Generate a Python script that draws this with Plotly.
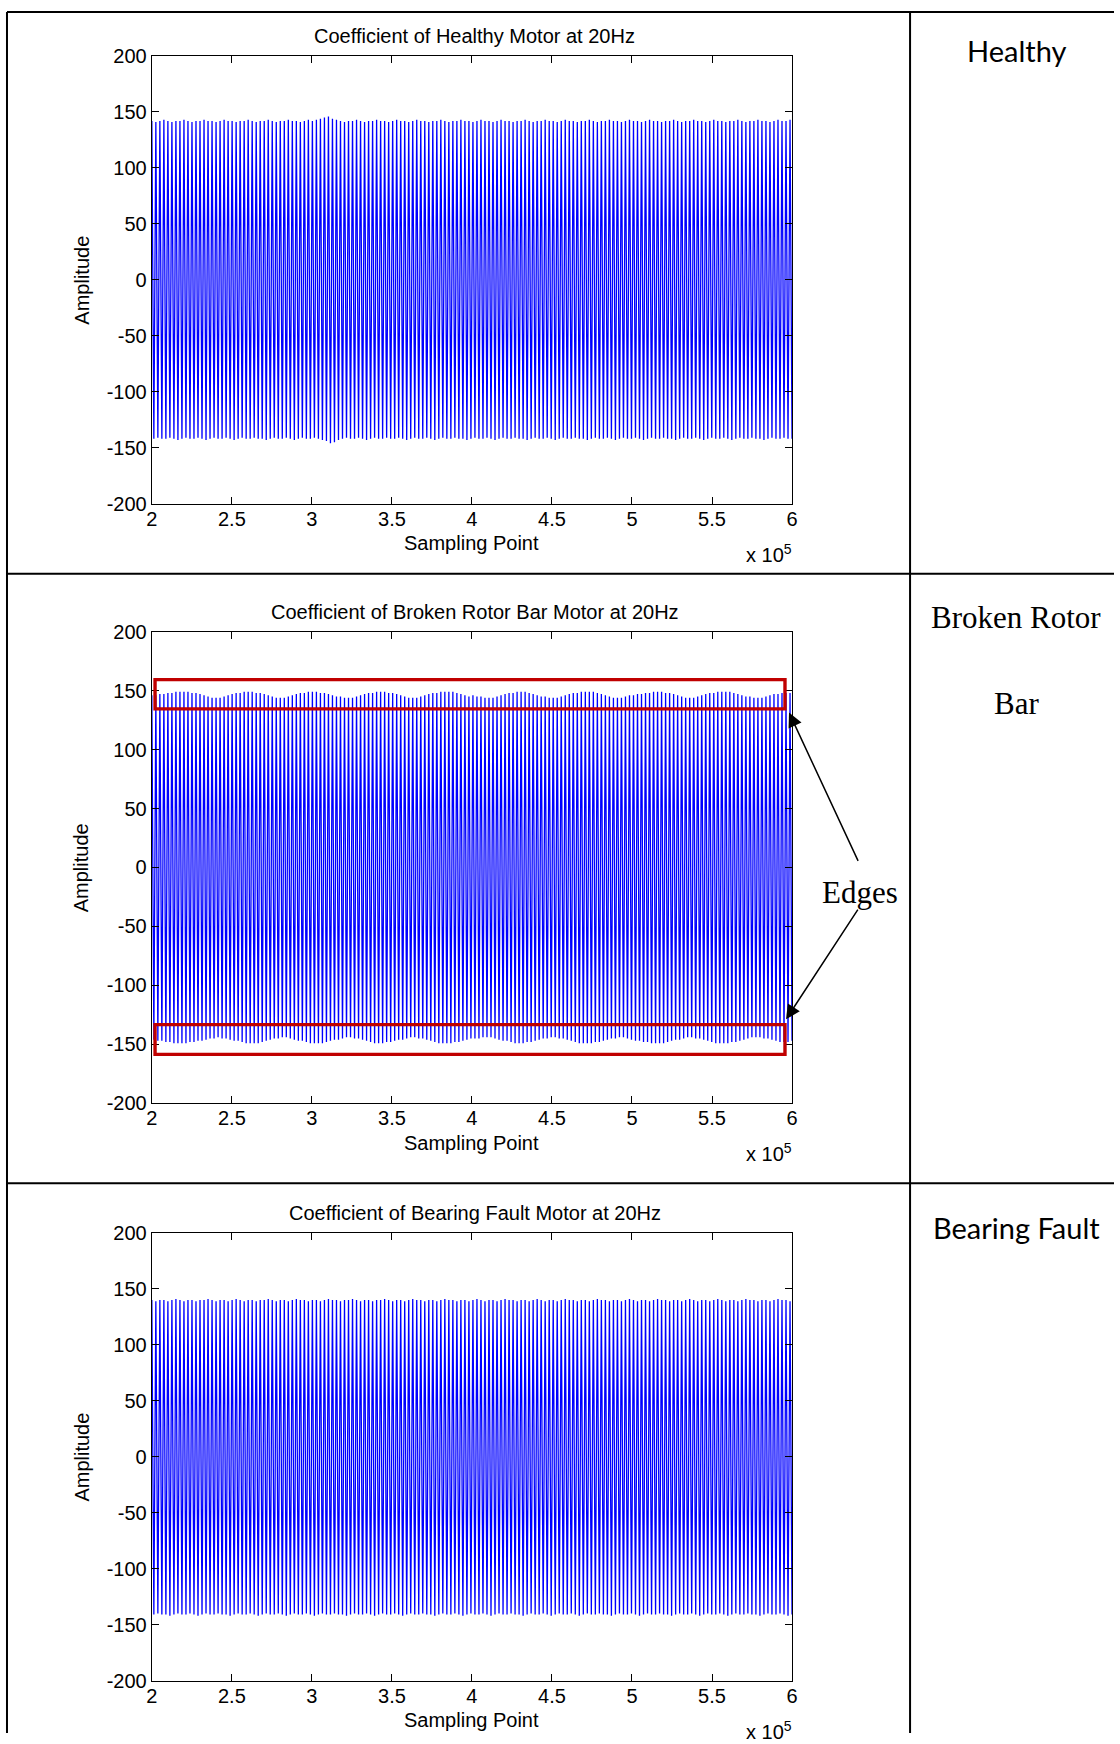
import plotly.graph_objects as go

# ---------------- data ----------------
X_START, X_END = 200000, 600000

healthy_peaks = [
    142, 141, 142, 143, 142, 141, 142, 142, 143, 142, 141, 142, 142, 143, 142, 142, 141, 142, 143, 142,
    142, 141, 142, 142, 143, 142, 141, 142, 142, 143, 142, 141, 142, 142, 143, 142, 142, 141, 142, 143,
    142, 143, 144, 145, 146, 144, 143, 142, 141, 142, 142, 143, 142, 141, 142, 142, 143, 142, 142, 141,
    142, 143, 142, 142, 141, 142, 143, 142, 142, 141, 142, 142, 143, 142, 141, 142, 142, 143, 142, 142,
    141, 142, 143, 142, 142, 141, 142, 143, 142, 142, 141, 142, 142, 143, 142, 141, 142, 142, 143, 142,
    142, 141, 142, 143, 142, 142, 141, 142, 142, 143, 142, 141, 142, 142, 143, 142, 142, 141, 142, 143,
    142, 142, 141, 142, 143, 142, 142, 141, 142, 142, 143, 142, 141, 142, 142, 143, 142, 142, 141, 142,
    143, 142, 142, 141, 142, 142, 143, 142, 141, 142, 142, 143, 142, 142, 141, 142, 143, 142, 142, 143,
]
healthy_troughs = [
    -142, -141, -142, -142, -141, -142, -143, -142, -141, -142, -142, -141, -142, -143, -142, -141, -142, -142, -141, -142,
    -143, -142, -141, -142, -142, -141, -142, -142, -143, -142, -141, -142, -142, -141, -142, -143, -142, -141, -142, -142,
    -141, -142, -143, -144, -146, -145, -143, -142, -141, -142, -142, -141, -142, -143, -142, -141, -142, -142, -141, -142,
    -142, -141, -142, -143, -142, -141, -142, -142, -141, -142, -143, -142, -141, -142, -142, -141, -142, -142, -143, -142,
    -141, -142, -142, -141, -142, -143, -142, -141, -142, -142, -141, -142, -142, -143, -142, -141, -142, -142, -141, -142,
    -143, -142, -141, -142, -142, -141, -142, -142, -143, -142, -141, -142, -142, -141, -142, -143, -142, -141, -142, -142,
    -141, -142, -143, -142, -141, -142, -142, -141, -142, -142, -143, -142, -141, -142, -142, -141, -142, -143, -142, -141,
    -142, -142, -141, -142, -143, -142, -141, -142, -142, -141, -142, -142, -143, -142, -141, -142, -142, -141, -142, -142,
]

broken_peaks = [
    146, 146, 147, 147, 148, 148, 149, 149, 149, 149, 148, 148, 147, 146, 145, 144, 144, 144, 145, 146,
    147, 148, 148, 149, 149, 149, 148, 148, 147, 146, 145, 144, 144, 144, 145, 146, 147, 148, 148, 149,
    149, 149, 148, 148, 147, 146, 145, 145, 144, 144, 144, 145, 146, 147, 148, 148, 149, 149, 149, 148,
    148, 147, 146, 145, 144, 144, 144, 145, 146, 147, 148, 148, 149, 149, 149, 149, 148, 147, 146, 145,
    146, 145, 145, 144, 144, 144, 145, 146, 147, 148, 148, 149, 149, 149, 148, 147, 146, 145, 145, 144,
    144, 144, 145, 146, 147, 148, 148, 149, 149, 149, 149, 148, 147, 146, 145, 144, 144, 144, 145, 146,
    146, 147, 147, 148, 148, 149, 149, 149, 148, 148, 147, 146, 145, 144, 144, 144, 145, 146, 147, 148,
    148, 149, 149, 149, 149, 148, 147, 146, 145, 145, 144, 144, 144, 145, 146, 147, 147, 148, 148, 148,
]
broken_troughs = [
    -146, -147, -147, -148, -148, -149, -149, -149, -149, -148, -148, -147, -147, -146, -145, -145, -144, -145, -145, -146,
    -147, -147, -148, -149, -149, -149, -149, -148, -147, -146, -145, -145, -144, -144, -145, -146, -147, -147, -148, -149,
    -149, -149, -149, -148, -147, -146, -146, -145, -144, -144, -145, -145, -146, -147, -148, -149, -149, -149, -148, -148,
    -147, -146, -146, -145, -144, -144, -145, -145, -146, -147, -148, -149, -149, -149, -149, -148, -148, -147, -146, -145,
    -145, -145, -144, -144, -144, -145, -146, -147, -147, -148, -149, -149, -149, -148, -148, -147, -146, -145, -145, -144,
    -144, -145, -145, -146, -147, -148, -149, -149, -149, -149, -148, -148, -147, -146, -145, -145, -144, -144, -145, -146,
    -147, -147, -148, -148, -149, -149, -149, -149, -148, -147, -146, -146, -145, -144, -144, -145, -145, -146, -147, -148,
    -149, -149, -149, -149, -148, -148, -147, -146, -145, -144, -144, -144, -145, -145, -146, -147, -148, -148, -148, -147,
]

bearing_peaks = [
    140, 139, 140, 140, 139, 140, 141, 140, 139, 140, 140, 139, 140, 140, 141, 140, 139, 140, 140, 139,
    140, 141, 140, 139, 140, 140, 139, 140, 140, 141, 140, 139, 140, 140, 139, 140, 141, 140, 140, 139,
    140, 140, 139, 140, 141, 140, 140, 139, 140, 140, 141, 140, 139, 140, 140, 139, 140, 140, 141, 140,
    139, 140, 140, 139, 140, 141, 140, 140, 139, 140, 140, 139, 140, 141, 140, 140, 139, 140, 140, 139,
    140, 141, 140, 139, 140, 140, 139, 140, 141, 140, 140, 139, 140, 140, 139, 140, 141, 140, 139, 140,
    140, 139, 140, 141, 140, 140, 139, 140, 140, 139, 140, 141, 140, 140, 139, 140, 140, 139, 140, 141,
    140, 139, 140, 140, 139, 140, 141, 140, 140, 139, 140, 140, 139, 140, 141, 140, 139, 140, 140, 139,
    140, 141, 140, 139, 140, 140, 139, 140, 141, 140, 140, 139, 140, 140, 139, 140, 141, 140, 140, 139,
]
bearing_troughs = [
    -141, -140, -141, -141, -142, -141, -140, -141, -141, -140, -141, -142, -141, -140, -141, -141, -140, -141, -141, -142,
    -141, -140, -141, -141, -140, -141, -142, -141, -140, -141, -141, -140, -141, -142, -141, -140, -141, -141, -140, -141,
    -142, -141, -140, -141, -141, -140, -141, -141, -142, -141, -140, -141, -141, -140, -141, -142, -141, -140, -141, -141,
    -140, -141, -142, -141, -140, -141, -141, -140, -141, -141, -142, -141, -140, -141, -141, -140, -141, -142, -141, -140,
    -141, -141, -140, -141, -142, -141, -140, -141, -141, -140, -141, -141, -142, -141, -140, -141, -141, -140, -141, -142,
    -141, -140, -141, -141, -140, -141, -142, -141, -140, -141, -141, -140, -141, -141, -142, -141, -140, -141, -141, -140,
    -141, -142, -141, -140, -141, -141, -140, -141, -141, -142, -141, -140, -141, -141, -140, -141, -142, -141, -140, -141,
    -141, -140, -141, -142, -141, -140, -141, -141, -140, -141, -141, -142, -141, -140, -141, -141, -140, -141, -142, -141,
]

x_tick_vals = [200000, 250000, 300000, 350000, 400000, 450000, 500000, 550000, 600000]
x_tick_text = ["2", "2.5", "3", "3.5", "4", "4.5", "5", "5.5", "6"]
y_tick_vals = [-200, -150, -100, -50, 0, 50, 100, 150, 200]
y_tick_text = ["-200", "-150", "-100", "-50", "0", "50", "100", "150", "200"]

plot_titles = [
    "Coefficient of Healthy Motor at 20Hz",
    "Coefficient of Broken Rotor Bar Motor at 20Hz",
    "Coefficient of Bearing Fault Motor at 20Hz",
]
x_label = "Sampling Point"
y_label = "Amplitude"
x_exponent = "x 10<sup>5</sup>"

# highlighted "edge" bands on the broken-rotor-bar panel (x range, y range)
edge_box_x = [202000, 595600]
edge_upper_y = [134.5, 159.3]
edge_lower_y = [-158.5, -133.3]

# ---------------- layout helpers ----------------
W, H = 1120, 1744
# the captured page shows the figure slightly scaled and offset; target
# positions (page pixels) are mapped back into figure pixels
SX, BX = 0.989, 6.2
SY, BY = 0.988, 10.0


def fx(x):
    return (x - BX) / SX


def fy(y):
    return (y - BY) / SY


def px(x):
    return min(max(fx(x) / W, 0.0), 1.0)


def py(y):
    return min(max(1 - fy(y) / H, 0.0), 1.0)


def build_series(peaks, troughs):
    n = 2 * len(peaks)
    step = (X_END - X_START) / (n - 1)
    xs, ys = [], []
    j = 0
    for p, t in zip(peaks, troughs):
        xs.append(X_START + j * step)
        ys.append(p)
        j += 1
        xs.append(X_START + j * step)
        ys.append(t)
        j += 1
    return xs, ys


# panel geometry in target pixels: (top, bottom)
panels = [(55, 503), (631, 1103), (1232.7, 1680.7)]
PLOT_L, PLOT_R = 152, 792
series = [
    (healthy_peaks, healthy_troughs),
    (broken_peaks, broken_troughs),
    (bearing_peaks, bearing_troughs),
]

fig = go.Figure()
TICKFONT = dict(family="Liberation Sans, Arial, sans-serif", size=20, color="black")
LABFONT = dict(family="Liberation Sans, Arial, sans-serif", size=20, color="black")

annotations = []
layout_axes = {}
for i, ((top, bot), (pk, tr)) in enumerate(zip(panels, series)):
    sfx = "" if i == 0 else str(i + 1)
    xs, ys = build_series(pk, tr)
    fig.add_trace(go.Scatter(
        x=xs, y=ys, mode="lines",
        line=dict(color="#0000FF", width=1.3, simplify=False),
        xaxis="x" + sfx, yaxis="y" + sfx,
        hoverinfo="skip", showlegend=False,
    ))
    common = dict(showline=True, linecolor="black", linewidth=1.3, mirror="allticks",
                  ticks="inside", ticklen=7, tickwidth=1, tickcolor="black",
                  showgrid=False, zeroline=False, tickfont=TICKFONT, fixedrange=True)
    layout_axes["xaxis" + sfx] = dict(
        common, domain=[px(PLOT_L), px(PLOT_R)], range=[X_START, X_END],
        tickmode="array", tickvals=x_tick_vals, ticktext=x_tick_text,
        anchor="y" + sfx, ticklabelstandoff=-3)
    layout_axes["yaxis" + sfx] = dict(
        common, domain=[py(bot), py(top)], range=[-200, 200],
        tickmode="array", tickvals=y_tick_vals, ticktext=y_tick_text,
        anchor="x" + sfx, ticklabelstandoff=0)

    cx = (PLOT_L + PLOT_R) / 2
    annotations.append(dict(text=plot_titles[i], x=px(475), y=py(top - 19.5),
                            xref="paper", yref="paper", showarrow=False,
                            xanchor="center", yanchor="middle", font=LABFONT))
    annotations.append(dict(text=x_label, x=px(cx), y=py(bot + 39.5),
                            xref="paper", yref="paper", showarrow=False,
                            xanchor="center", yanchor="middle", font=LABFONT))
    annotations.append(dict(text=x_exponent, x=px(PLOT_R + 2), y=py(bot + 49.5),
                            xref="paper", yref="paper", showarrow=False,
                            xanchor="right", yanchor="middle", font=LABFONT))
    annotations.append(dict(text=y_label, x=px(82), y=py((top + bot) / 2),
                            xref="paper", yref="paper", showarrow=False, textangle=-90,
                            xanchor="center", yanchor="middle", font=LABFONT))

# right-hand column labels
CAL = dict(family="Lato, Open Sans, sans-serif", size=29, color="black")
SERIF = dict(family="Liberation Serif, Times New Roman, serif", size=31, color="black")
annotations += [
    dict(text="Healthy", x=px(1016), y=py(49.5), font=CAL),
    dict(text="Broken Rotor", x=px(1016), y=py(616.5), font=SERIF),
    dict(text="Bar", x=px(1016), y=py(703), font=SERIF),
    dict(text="Bearing Fault", x=px(1016), y=py(1227), font=CAL),
    dict(text="Edges", x=px(860), y=py(892), font=SERIF),
]
for a in annotations[-5:]:
    a.update(xref="paper", yref="paper", showarrow=False, xanchor="center", yanchor="middle")

# arrows from "Edges" to the two bands
annotations += [
    dict(text="", x=px(789), y=py(712), xref="paper", yref="paper", showarrow=True,
         ax=69 / SX, ay=148 / SY, arrowhead=2, arrowsize=1.9, arrowwidth=1.5, arrowcolor="black"),
    dict(text="", x=px(786), y=py(1019), xref="paper", yref="paper", showarrow=True,
         ax=72 / SX, ay=-110 / SY, arrowhead=2, arrowsize=1.9, arrowwidth=1.5, arrowcolor="black"),
]

shapes = []
# table grid
LINE = dict(color="black", width=2)
top_y = min(py(5.7), 1 - 1 / H)
left_x = max(px(6.6), 1 / W)
shapes += [
    dict(type="line", xref="paper", yref="paper", x0=left_x, x1=1, y0=top_y, y1=top_y, line=LINE),
    dict(type="line", xref="paper", yref="paper", x0=left_x, x1=left_x, y0=0, y1=top_y, line=LINE),
    dict(type="line", xref="paper", yref="paper", x0=px(910), x1=px(910), y0=0, y1=top_y, line=LINE),
    dict(type="line", xref="paper", yref="paper", x0=left_x, x1=1, y0=py(573), y1=py(573), line=LINE),
    dict(type="line", xref="paper", yref="paper", x0=left_x, x1=1, y0=py(1183), y1=py(1183), line=LINE),
]
# red highlight boxes on panel 2 (data coordinates)
RED = dict(color="#C00000", width=3.4)
for yr in (edge_upper_y, edge_lower_y):
    shapes.append(dict(type="rect", xref="x2", yref="y2", x0=edge_box_x[0], x1=edge_box_x[1],
                       y0=yr[0], y1=yr[1], line=RED, fillcolor="rgba(0,0,0,0)", layer="above"))

fig.update_layout(
    width=W, height=H, autosize=False,
    margin=dict(l=0, r=0, t=0, b=0, pad=0),
    paper_bgcolor="white", plot_bgcolor="white",
    showlegend=False,
    annotations=annotations, shapes=shapes,
    **layout_axes,
)

fig.write_html("out.html")
